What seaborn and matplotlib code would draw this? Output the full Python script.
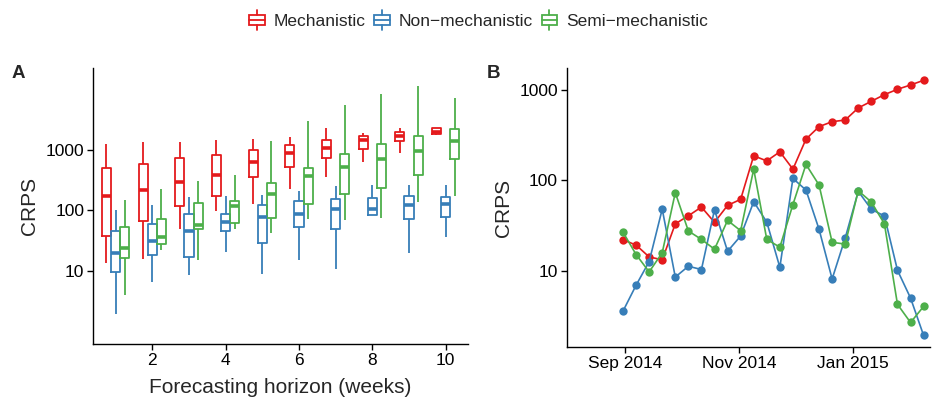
import numpy as np
import pandas as pd
import matplotlib
matplotlib.use("Agg")
import matplotlib.pyplot as plt
import matplotlib.dates as mdates
from matplotlib.legend_handler import HandlerBase
from matplotlib.patches import Rectangle
from matplotlib.lines import Line2D
import seaborn as sns

# ---------------- data ----------------
methods = ["Mechanistic", "Non\u2212mechanistic", "Semi\u2212mechanistic"]
colors = ["#E41A1C", "#377EB8", "#4DAF4A"]
horizons = [1, 2, 3, 4, 5, 6, 7, 8, 9, 10]

# five-number summaries per horizon: [lower whisker, q1, median, q3, upper whisker]
mech_box = [
    [13.2, 38, 173, 497, 1244],
    [15.7, 66, 220, 593, 1343],
    [50, 119, 291, 745, 1343],
    [97, 173, 389, 836, 1466],
    [126, 356, 633, 1000, 1520],
    [223, 516, 881, 1224, 1625],
    [352, 728, 1067, 1466, 2290],
    [640, 1027, 1466, 1726, 1893],
    [881, 1394, 1687, 2013, 2318],
    [1755, 1843, 2013, 2290, 2340],
]
nonmech_box = [
    [1.9, 9.5, 19.4, 46, 100],
    [6.5, 18, 31, 59, 124],
    [8.5, 16.8, 46, 88, 166],
    [20.3, 46, 64, 88, 175],
    [8.7, 28.7, 78, 124, 181],
    [15, 52, 86, 141, 207],
    [10.5, 50, 104, 154, 250],
    [84, 84, 105, 162, 260],
    [19.6, 71, 121, 171, 266],
    [36, 77, 127, 164, 266],
]
semi_box = [
    [3.9, 16.4, 24, 53, 147],
    [22, 28, 36, 72, 228],
    [14.8, 50, 57, 131, 303],
    [50, 61.5, 118, 143, 380],
    [42, 74, 188, 281, 1394],
    [71, 126, 366, 497, 3060],
    [69, 184, 523, 858, 5640],
    [74, 237, 702, 1271, 8600],
    [139, 380, 973, 1726, 11500],
    [171, 702, 1427, 2230, 7190],
]

dates = ["2014-08-31", "2014-09-07", "2014-09-14", "2014-09-21", "2014-09-28",
         "2014-10-05", "2014-10-12", "2014-10-19", "2014-10-26", "2014-11-02",
         "2014-11-09", "2014-11-16", "2014-11-23", "2014-11-30", "2014-12-07",
         "2014-12-14", "2014-12-21", "2014-12-28", "2015-01-04", "2015-01-11",
         "2015-01-18", "2015-01-25", "2015-02-01", "2015-02-08"]
mech_ts = [22, 19.2, 14.2, 13.2, 33, 40.5, 50.6, 34.3, 52.8, 61.6,
           187, 164, 207, 133, 286, 393, 446, 465, 633, 750, 888, 1018, 1136, 1280]
nonmech_ts = [3.57, 6.9, 12.6, 48, 8.5, 11.2, 10.3, 47.3, 16.4, 24.2,
              58, 34.5, 10.9, 105, 78, 28.7, 8.1, 23, 75.5, 47.8, 40.3, 10.1, 4.98, 1.92]
semi_ts = [26.7, 15.1, 9.7, 15.8, 73, 27.5, 22.2, 17.3, 36, 27.7,
           133, 22.2, 18.2, 54, 150, 88.7, 20.6, 19.7, 76.7, 57.5, 33, 4.24, 2.67, 4.02]

# ---------------- tables ----------------
rows = []
for m, boxes in zip(methods, [mech_box, nonmech_box, semi_box]):
    for h, stats in zip(horizons, boxes):
        for v in stats:
            rows.append((h, m, v))
dfA = pd.DataFrame(rows, columns=["horizon", "method", "crps"])

rowsB = []
for m, ts in zip(methods, [mech_ts, nonmech_ts, semi_ts]):
    for d, v in zip(dates, ts):
        rowsB.append((pd.Timestamp(d), m, v))
dfB = pd.DataFrame(rowsB, columns=["date", "method", "crps"])

# ---------------- style ----------------
sns.set_theme(style="ticks")
plt.rcParams["font.family"] = ["Liberation Sans", "DejaVu Sans"]
plt.rcParams["axes.linewidth"] = 1.0
palette = dict(zip(methods, colors))

fig = plt.figure(figsize=(9.32, 3.98), dpi=100)
axA = fig.add_axes([93.3 / 932, 1 - 344 / 398, (468 - 93.3) / 932, (344 - 68.3) / 398])
axB = fig.add_axes([567 / 932, 1 - 347 / 398, (930 - 567) / 932, (347 - 68.3) / 398])

# ---- panel A ----
sns.boxplot(data=dfA, x="horizon", y="crps", hue="method", hue_order=methods,
            palette=palette, native_scale=True, log_scale=(False, True), whis=(0, 100),
            fill=False, width=0.75, gap=0, linewidth=1.3, showcaps=False,
            showfliers=False, medianprops=dict(linewidth=2.6), legend=False, ax=axA)
axA.set_xlim(0.39, 10.61)
axA.set_ylim(0.61, 22600)
axA.set_xticks([2, 4, 6, 8, 10])
axA.set_xticklabels(["2", "4", "6", "8", "10"])
axA.set_yticks([10, 100, 1000])
axA.set_yticklabels(["10", "100", "1000"])
axA.minorticks_off()
axA.set_xlabel("Forecasting horizon (weeks)", fontsize=15)
axA.set_ylabel("CRPS", fontsize=15)
axA.xaxis.set_label_coords(0.5, -34 / 275.7)
axA.yaxis.set_label_coords(-54 / 374.7, 0.5)

# ---- panel B ----
sns.lineplot(data=dfB, x="date", y="crps", hue="method", hue_order=methods,
             palette=palette, marker="o", markersize=6, markeredgewidth=0,
             linewidth=1.2, legend=False, ax=axB)
axB.set_yscale("log")
axB.set_xlim(pd.Timestamp("2014-08-01"), pd.Timestamp("2015-02-11 10:00"))
axB.set_ylim(1.43, 1738)
axB.set_yticks([10, 100, 1000])
axB.set_yticklabels(["10", "100", "1000"])
axB.minorticks_off()
axB.xaxis.set_major_locator(mdates.MonthLocator(bymonth=[1, 3, 5, 7, 9, 11]))
axB.xaxis.set_major_formatter(mdates.DateFormatter("%b %Y"))
axB.set_xlabel("")
axB.set_ylabel("CRPS", fontsize=15)
axB.yaxis.set_label_coords(-54 / 363, 0.5)

for ax in (axA, axB):
    sns.despine(ax=ax)
    ax.tick_params(axis="both", labelsize=12.5, length=4, width=1.0, pad=2.5,
                   colors="black")
    for s in ("left", "bottom"):
        ax.spines[s].set_color("black")

fig.text(18.7 / 932, 1 - 74 / 398, "A", fontsize=13.5, fontweight="bold",
         ha="center", va="center")
fig.text(493 / 932, 1 - 74 / 398, "B", fontsize=13.5, fontweight="bold",
         ha="center", va="center")


# ---- legend with boxplot keys ----
class BoxHandler(HandlerBase):
    def create_artists(self, legend, orig_handle, xdescent, ydescent, width,
                       height, fontsize, trans):
        c = orig_handle.get_color()
        cy = height / 2 - ydescent
        bh = height * 0.7
        rect = Rectangle((-xdescent, cy - bh / 2), width, bh, fill=False,
                         edgecolor=c, linewidth=1.3, transform=trans)
        med = Line2D([-xdescent, -xdescent + width], [cy, cy], color=c,
                     linewidth=1.3, transform=trans)
        cx = -xdescent + width / 2
        w1 = Line2D([cx, cx], [cy + bh / 2, cy + bh / 2 + height * 0.35],
                    color=c, linewidth=1.3, transform=trans)
        w2 = Line2D([cx, cx], [cy - bh / 2, cy - bh / 2 - height * 0.35],
                    color=c, linewidth=1.3, transform=trans)
        return [rect, med, w1, w2]


handles = [Line2D([], [], color=c) for c in colors]
fig.legend(handles, methods, handler_map={Line2D: BoxHandler()},
           loc="center", bbox_to_anchor=(478.5 / 932, 1 - 21 / 398), ncol=3,
           frameon=False, fontsize=12.5, handlelength=0.9, handleheight=0.9,
           handletextpad=0.5, columnspacing=0.5, borderpad=0)

fig.savefig("out.png", dpi=100)
